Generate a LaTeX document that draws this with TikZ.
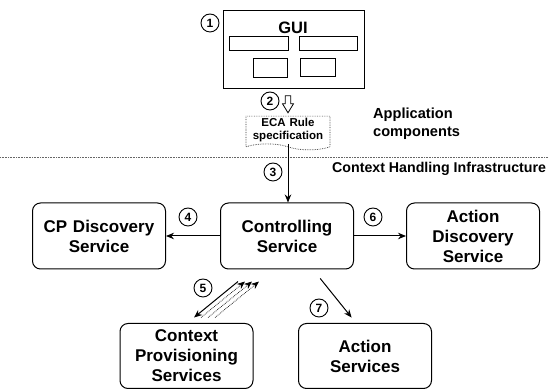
\documentclass[tikz,border=0pt]{standalone}
\usepackage{fontspec}
\setmainfont{Liberation Sans}
\usetikzlibrary{calc,positioning,arrows.meta,shapes.symbols}
\tikzset{
>={Stealth[length=8pt,width=6.5pt]},
  service/.style={
    rectangle,
    rounded corners=8pt,
    draw=black, line width=1pt,
    text width=125pt,
    minimum width=133pt,
    minimum height=66pt,
    text centered,
    font=\fontsize{17}{20}\selectfont\bfseries},
  numcircle/.style={circle, draw=black, line width=0.9pt, inner sep=0pt,
    minimum size=18pt, font=\fontsize{12}{12}\selectfont\bfseries},
  widget/.style={rectangle, draw=black, line width=0.8pt},
  line/.style={draw, line width=1pt, ->},
  feedback/.style={draw, line width=0.7pt, densely dotted, ->},
  layer/.style={font=\fontsize{14.6}{18}\selectfont\bfseries,
    align=left, anchor=west, inner sep=0pt}
}

\begin{document}
\begin{tikzpicture}[x=1pt, y=1pt, node distance=54pt]
  \useasboundingbox (0,0) rectangle (549,390);

  % application side
  \node[widget, line width=1pt, minimum width=141pt, minimum height=78pt] (gui) at (293.5,340) {};
  \node[font=\fontsize{16.5}{16}\selectfont\bfseries] (guititle) at (293,362) {GUI};
  \node[widget, minimum width=59pt, minimum height=14pt] (w1) at (258.5,347) {};
  \node[widget, minimum width=58pt, minimum height=14pt] (w2) at (328,347) {};
  \node[widget, minimum width=34pt, minimum height=19pt] (w3) at (270,322.5) {};
  \node[widget, minimum width=35pt, minimum height=18pt] (w4) at (317.5,323) {};

  \node[tape, draw=black!80, densely dotted, line width=0.7pt,
    tape bend top=none, tape bend bottom=out and in, tape bend height=6pt,
    text width=80pt, align=center, inner sep=2pt, minimum height=33pt,
    font=\fontsize{11.5}{13}\selectfont\bfseries] (eca) at (288,260) {ECA Rule\\specification};
  \coordinate (a2) at ($(eca.north)+(0,12)$);
  \draw[line width=0.8pt, shift={(a2)}] (-2.75,8) -- (-2.75,0) -- (-5.5,0) -- (0,-9)
    -- (5.5,0) -- (2.75,0) -- (2.75,8) -- cycle;

  \node[layer] (app) at (373,266) {Application\\components};
  \coordinate (sepL) at (0,233);
  \coordinate (sepR) at (549,233);
  \draw[black!60, densely dotted, line width=0.6pt] (sepL) -- (sepR);
  \node[layer, font=\fontsize{14.2}{18}\selectfont\bfseries] (chi) at (332,221) {Context Handling Infrastructure};

  % infrastructure side
  \node[service] (ctrl) at (287,154) {Controlling\\Service};
  \node[service, left=of ctrl] (cpd) {CP Discovery\\Service};
  \node[service, right=52pt of ctrl] (adisc) {Action\\Discovery\\Service};
  \node[service, below=53.5pt of ctrl, xshift=-100.5pt, minimum height=65pt] (cps) {Context\\Provisioning\\Services};
  \node[service, below=53.5pt of ctrl, xshift=78pt, minimum height=65pt] (acts) {Action\\Services};

  \node[numcircle] (n1) at (210,367) {1};
  \node[numcircle] (n2) at (270,289) {2};
  \node[numcircle] (n3) at (273,218) {3};
  \node[numcircle] (n4) at (188,173) {4};
  \node[numcircle] (n5) at (203,102) {5};
  \node[numcircle] (n6) at (373,173) {6};
  \node[numcircle] (n7) at (319,82) {7};

  \draw[line] (eca.south) -- (eca.south |- ctrl.north);
  \draw[line] (ctrl.west) -- (cpd.east);
  \draw[line] (ctrl.east) -- (adisc.west);
  \draw[line, shorten <=11.5pt, shorten >=7pt] ([xshift=26pt]ctrl.south) -- ([xshift=-9pt]acts.north);
  \draw[line, shorten <=19pt, shorten >=8.7pt] ([xshift=-34.3pt]ctrl.south) -- ([xshift=0.8pt]cps.north);
  \foreach \a/\b in {7.8/-27.3, 14.8/-20.3, 21.8/-13.3}
    \draw[feedback, shorten <=8.7pt, shorten >=19pt] ([xshift=\a pt]cps.north) -- ([xshift=\b pt]ctrl.south);
\end{tikzpicture}
\end{document}
